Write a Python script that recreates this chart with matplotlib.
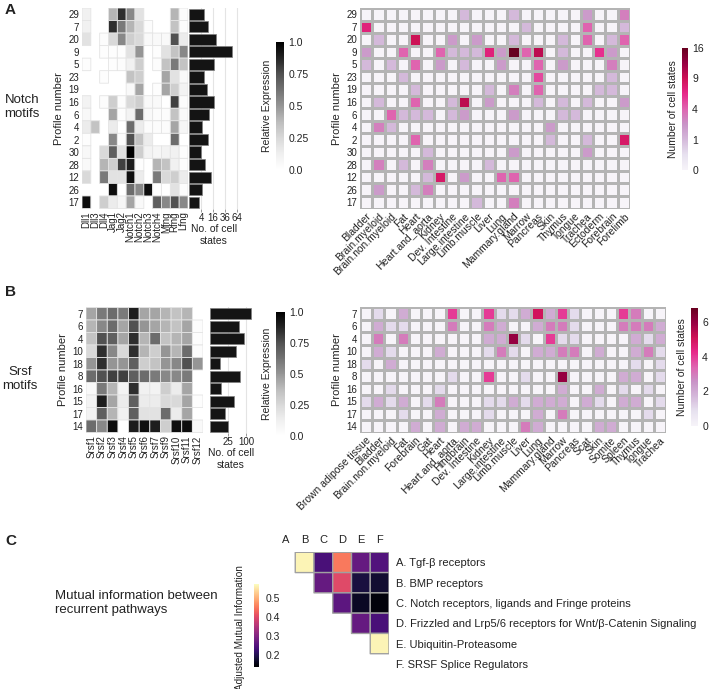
import numpy as np
import matplotlib
matplotlib.use('Agg')
import matplotlib.pyplot as plt
from matplotlib.colors import PowerNorm, Normalize

plt.rcParams['font.family'] = ['Liberation Sans', 'DejaVu Sans']
plt.rcParams['text.color'] = '#222222'
plt.rcParams['axes.labelcolor'] = '#222222'
plt.rcParams['xtick.color'] = '#222222'
plt.rcParams['ytick.color'] = '#222222'

nan = np.nan

# ---------------- Panel A data ----------------
notch_rows = ['29', '7', '20', '9', '5', '23', '19', '16', '6', '4', '2', '30', '28', '12', '26', '17']
notch_genes = ['Dll1', 'Dll3', 'Dll4', 'Jag1', 'Jag2', 'Notch1', 'Notch2', 'Notch3', 'Notch4', 'Mfng', 'Rfng', 'Lfng']
notch_expr = [
    [0.12, nan, nan, 0.40, 0.85, 0.55, 0.20, nan, nan, nan, 0.40, 0.03],
    [0.12, nan, nan, 0.85, 0.60, 0.40, 0.25, 0.03, nan, nan, 0.35, 0.03],
    [0.20, nan, 0.03, 0.25, 0.55, 0.30, 0.25, 0.05, 0.05, 0.05, 0.75, 0.15],
    [nan, nan, 0.02, 0.02, 0.02, 0.20, 0.50, nan, 0.02, 0.20, 0.35, 0.55],
    [0.02, nan, nan, 0.02, 0.03, 0.12, 0.30, nan, 0.03, 0.35, 0.60, 0.35],
    [nan, nan, 0.02, nan, nan, 0.35, 0.30, nan, nan, 0.45, 0.20, 0.05],
    [nan, nan, nan, nan, nan, 0.05, 0.45, nan, 0.02, 0.45, 0.30, 0.10],
    [0.10, nan, 0.03, 0.30, 0.03, 0.25, 0.30, 0.05, 0.05, nan, 0.80, 0.03],
    [0.06, nan, nan, 0.45, 0.02, 0.10, 0.65, 0.05, 0.03, 0.03, 0.35, 0.05],
    [0.15, 0.35, nan, 0.15, nan, 0.65, 0.15, 0.03, 0.03, 0.03, 0.45, 0.08],
    [0.02, nan, nan, 0.55, 0.03, 0.75, 0.35, 0.15, nan, nan, 0.65, nan],
    [0.06, nan, 0.25, 0.70, 0.20, 1.00, 0.30, 0.10, 0.08, 0.10, 0.12, 0.02],
    [0.05, nan, 0.40, 0.30, 0.80, 0.90, 0.02, nan, 0.40, 0.35, 0.12, 0.02],
    [0.25, nan, 0.60, 0.20, 0.20, 0.95, 0.15, nan, 0.60, 0.25, 0.30, 0.15],
    [nan, nan, nan, 0.95, nan, 0.65, 0.55, 0.95, 0.02, nan, 0.20, 0.03],
    [0.95, nan, 0.30, 0.15, 0.08, 0.45, 0.05, nan, 0.70, 0.55, 0.75, 0.55],
]
notch_counts = [6, 10, 20, 52, 17, 6, 9, 18, 11, 5, 10, 4, 7, 14, 5, 3]
notch_count_ticks = [4, 16, 36, 64]

notch_tissues = ['Bladder', 'Brain.myeloid', 'Brain.non.myeloid', 'Fat', 'Heart', 'Heart.and_aorta',
                 'Kidney', 'Dev. Intestine', 'Large.intestine', 'Limb.muscle', 'Liver', 'Lung',
                 'Mammary.gland', 'Marrow', 'Pancreas', 'Skin', 'Thymus', 'Tongue', 'Trachea',
                 'Ectoderm', 'Forebrain', 'Forelimb']
notch_states = [
    [0, 0, 0, 0, 0, 0, 0, 0, 1, 0, 0, 0, 1, 0, 0, 0, 0, 0, 2, 0, 0, 3],
    [7, 0, 0, 0, 0, 0, 0, 0, 0, 0, 0, 0, 0, 1, 0, 0, 0, 0, 4, 0, 0, 1],
    [0, 1, 0, 0, 9, 0, 0, 2, 0, 2, 0, 0, 1, 0, 0, 0, 1, 0, 4, 0, 1, 4],
    [2, 0, 0, 4, 0, 0, 4, 1, 1, 1, 7, 2, 16, 4, 10, 0, 1, 0, 0, 6, 2, 0],
    [1, 0, 1, 0, 4, 0, 2, 0, 1, 0, 0, 2, 0, 0, 4, 0, 2, 0, 0, 0, 3, 0],
    [0, 0, 0, 1, 0, 0, 0, 0, 0, 0, 0, 0, 0, 0, 5, 0, 0, 0, 0, 0, 1, 0],
    [0, 0, 0, 0, 1, 0, 0, 0, 0, 0, 1, 0, 3, 0, 4, 0, 0, 0, 0, 1, 1, 0],
    [0, 1, 0, 0, 4, 0, 0, 1, 10, 0, 2, 0, 0, 0, 1, 0, 1, 0, 1, 0, 0, 2],
    [0, 0, 4, 1, 1, 1, 0, 1, 2, 0, 0, 0, 2, 0, 0, 0, 1, 1, 0, 0, 0, 0],
    [0, 3, 1, 0, 0, 0, 0, 0, 0, 0, 0, 0, 0, 0, 0, 2, 0, 0, 0, 0, 0, 0],
    [0, 0, 0, 0, 4, 0, 0, 0, 0, 0, 0, 0, 0, 0, 0, 1, 0, 0, 1, 0, 0, 8],
    [0, 0, 0, 0, 0, 1, 0, 0, 0, 0, 0, 0, 2, 0, 0, 0, 0, 0, 2, 0, 0, 0],
    [0, 3, 0, 1, 0, 3, 0, 0, 0, 0, 1, 0, 0, 0, 0, 0, 0, 0, 0, 0, 0, 0],
    [0, 0, 0, 0, 0, 1, 8, 0, 2, 0, 0, 4, 4, 0, 0, 0, 0, 0, 0, 0, 0, 0],
    [0, 2, 0, 0, 1, 3, 0, 0, 0, 0, 0, 0, 0, 0, 0, 0, 0, 0, 0, 0, 0, 0],
    [0, 0, 0, 0, 0, 0, 0, 0, 0, 1, 0, 0, 3, 0, 0, 0, 0, 0, 0, 0, 0, 0],
]
notch_state_ticks = [0, 1, 4, 9, 16]

# ---------------- Panel B data ----------------
srsf_rows = ['7', '6', '4', '10', '18', '8', '16', '15', '17', '14']
srsf_genes = ['Srsf1', 'Srsf2', 'Srsf3', 'Srsf4', 'Srsf5', 'Srsf6', 'Srsf7', 'Srsf9', 'Srsf10', 'Srsf11', 'Srsf12']
srsf_expr = [
    [0.45, 0.60, 0.65, 0.60, 0.90, 0.45, 0.45, 0.40, 0.35, 0.40, nan],
    [0.40, 0.55, 0.65, 0.45, 0.75, 0.50, 0.45, 0.40, 0.35, 0.45, 0.03],
    [0.35, 0.75, 0.70, 0.45, 0.85, 0.40, 0.65, 0.35, 0.40, 0.45, 0.02],
    [0.25, 0.85, 0.55, 0.25, 0.85, 0.40, 0.30, 0.50, 0.40, 0.65, 0.03],
    [0.50, 0.85, 0.50, 0.50, 0.70, 0.30, 0.35, 0.50, 0.55, 0.75, 0.50],
    [0.65, 0.75, 0.80, 0.80, 0.70, 0.65, 0.60, 0.55, 0.55, 0.60, nan],
    [0.05, 0.60, 0.40, 0.10, 0.85, 0.12, 0.10, 0.30, 0.15, 0.45, nan],
    [0.10, 0.90, 0.45, 0.15, 0.70, 0.15, 0.15, 0.25, 0.25, 0.45, 0.02],
    [0.10, 0.70, 0.40, 0.12, 0.70, 0.20, 0.20, 0.65, 0.15, 0.45, nan],
    [0.65, 0.55, 0.95, nan, 0.90, 0.95, 0.90, 0.30, 0.95, 0.95, 0.05],
]
srsf_counts = [128, 66, 91, 52, 7, 69, 10, 46, 17, 26]
srsf_count_ticks = [25, 100]

srsf_tissues = ['Brown adipose tissue', 'Bladder', 'Brain.non.myeloid', 'Fat', 'Forebrain', 'Gat',
                'Heart', 'Heart.and_aorta', 'Hindbrain', 'Dev. Intestine', 'Kidney', 'Large.intestine',
                'Limb.muscle', 'Liver', 'Lung', 'Mammary.gland', 'Marrow', 'Pancreas', 'Scat', 'Skin',
                'Somite', 'Spleen', 'Thymus', 'Tongue', 'Trachea']
srsf_states = [
    [0, 1, 0, 2, 0, 0, 0, 4, 0, 0, 4, 1, 1, 2, 5, 2, 4, 1, 0, 0, 0, 4, 3, 0, 0],
    [0, 2, 1, 1, 0, 0, 0, 3, 0, 0, 3, 2, 0, 0, 2, 3, 3, 1, 0, 0, 0, 3, 3, 3, 2],
    [0, 3, 0, 3, 0, 0, 0, 0, 0, 0, 2, 2, 6, 1, 0, 4, 1, 1, 0, 0, 0, 0, 2, 1, 2],
    [0, 2, 1, 0, 0, 0, 2, 0, 0, 0, 1, 3, 1, 0, 2, 2, 3, 3, 0, 2, 0, 0, 2, 3, 1],
    [1, 0, 2, 0, 0, 0, 0, 0, 0, 0, 0, 0, 0, 0, 0, 0, 0, 0, 0, 0, 0, 0, 1, 0, 1],
    [0, 0, 0, 0, 0, 0, 0, 1, 0, 0, 4, 0, 0, 1, 0, 0, 6, 0, 0, 0, 0, 2, 2, 0, 1],
    [0, 0, 1, 0, 0, 0, 1, 0, 0, 0, 0, 0, 0, 0, 0, 0, 2, 0, 0, 2, 0, 1, 0, 1, 0],
    [1, 2, 1, 2, 0, 1, 3, 0, 0, 0, 1, 1, 2, 1, 2, 2, 2, 0, 2, 1, 0, 2, 2, 0, 1],
    [0, 0, 0, 1, 0, 0, 2, 0, 0, 0, 1, 0, 0, 0, 2, 0, 3, 0, 0, 0, 0, 0, 0, 1, 0],
    [0, 0, 0, 0, 2, 0, 2, 0, 2, 2, 0, 0, 0, 3, 2, 0, 0, 0, 0, 2, 2, 0, 0, 0, 0],
]
srsf_state_ticks = [0, 2, 4, 6]

# ---------------- Panel C data ----------------
pathway_letters = ['A', 'B', 'C', 'D', 'E', 'F']
pathway_names = ['A. Tgf-\u03b2 receptors', 'B. BMP receptors',
                 'C. Notch receptors, ligands and Fringe proteins',
                 'D. Frizzled and Lrp5/6 receptors for Wnt/\u03b2-Catenin Signaling',
                 'E. Ubiquitin-Proteasome', 'F. SRSF Splice Regulators']
ami = [
    [nan, 0.56, 0.24, 0.45, 0.27, 0.25],
    [nan, nan, 0.27, 0.40, 0.19, 0.18],
    [nan, nan, nan, 0.26, 0.17, 0.15],
    [nan, nan, nan, nan, 0.27, 0.24],
    [nan, nan, nan, nan, nan, 0.56],
    [nan, nan, nan, nan, nan, nan],
]
ami_ticks = [0.2, 0.3, 0.4, 0.5]

# ---------------- figure ----------------
W, H = 714, 689
fig = plt.figure(figsize=(W / 100, H / 100), dpi=100)


def axpx(x0, y0, x1, y1):
    return fig.add_axes([x0 / W, 1 - y1 / H, (x1 - x0) / W, (y1 - y0) / H])


def hide_spines(ax):
    for s in ax.spines.values():
        s.set_visible(False)


def grey_heatmap(ax, data, rows, cols):
    m = np.ma.masked_invalid(np.array(data, float))
    mesh = ax.pcolor(m, cmap='Greys', vmin=0, vmax=1, edgecolors='#e4e4e4', linewidth=0.6)
    ax.set_xlim(0, len(cols))
    ax.set_ylim(len(rows), 0)
    ax.set_xticks(np.arange(len(cols)) + 0.5, cols, rotation=90, fontsize=7)
    ax.set_yticks(np.arange(len(rows)) + 0.5, rows, fontsize=7)
    ax.tick_params(length=0, pad=2)
    ax.set_ylabel('Profile number', fontsize=8, labelpad=3)
    hide_spines(ax)
    return mesh


def bar_panel(ax, vals, xmax, ticks):
    y = np.arange(len(vals)) + 0.5
    ax.set_xscale('function', functions=(lambda v: np.sqrt(np.clip(v, 0, None)), lambda v: np.square(v)))
    ax.barh(y, vals, height=0.9, color='#141414', edgecolor='#808080', linewidth=0.5, zorder=3)
    ax.set_ylim(len(vals), 0)
    ax.set_xlim(0, xmax)
    ax.set_xticks(ticks)
    ax.set_xticklabels([str(t) for t in ticks], fontsize=7)
    ax.xaxis.set_minor_locator(matplotlib.ticker.NullLocator())
    ax.grid(axis='x', color='#e4e4e4', lw=0.8, zorder=0)
    ax.set_yticks([])
    ax.tick_params(axis='x', length=2, width=0.6, pad=1, color='#888888')
    ax.set_xlabel('No. of cell\nstates', fontsize=7.5, labelpad=1)
    hide_spines(ax)


def pink_heatmap(ax, data, rows, cols, norm):
    mesh = ax.pcolormesh(np.array(data, float), cmap='PuRd', norm=norm,
                         edgecolors='#b4b4b4', linewidth=0.8)
    ax.set_xlim(0, len(cols))
    ax.set_ylim(len(rows), 0)
    ax.set_xticks(np.arange(len(cols)) + 0.5, cols, rotation=45, ha='right',
                  rotation_mode='anchor', fontsize=7.5)
    ax.set_yticks(np.arange(len(rows)) + 0.5, rows, fontsize=7)
    ax.tick_params(length=0, pad=2)
    ax.set_ylabel('Profile number', fontsize=8, labelpad=3)
    hide_spines(ax)
    return mesh


def colorbar(mesh, rect, ticks, labels, label):
    cax = axpx(*rect)
    cb = fig.colorbar(mesh, cax=cax, ticks=ticks)
    cb.set_ticklabels(labels)
    cb.outline.set_visible(False)
    cax.tick_params(length=0, labelsize=7.5, pad=3)
    cax.yaxis.set_label_position('left')
    cax.set_ylabel(label, fontsize=7.5, labelpad=3)
    return cb


# ---- Panel A ----
fig.text(5 / W, 1 - 10 / H, 'A', fontsize=11, fontweight='bold', va='center', ha='left')
fig.text(22 / W, 1 - 107 / H, 'Notch\nmotifs', fontsize=9.5, ha='center', va='center', linespacing=1.25)

axA1 = axpx(82, 8, 188, 208.5)
mA1 = grey_heatmap(axA1, notch_expr, notch_rows, notch_genes)
axA2 = axpx(189, 8, 239, 208.5)
bar_panel(axA2, notch_counts, 69.4, notch_count_ticks)
colorbar(mA1, (276, 42, 284, 170), [0, 0.25, 0.5, 0.75, 1.0], ['0.0', '0.25', '0.5', '0.75', '1.0'],
         'Relative Expression')

axA3 = axpx(360, 8, 630, 208.5)
mA3 = pink_heatmap(axA3, notch_states, notch_rows, notch_tissues, PowerNorm(0.5, vmin=0, vmax=16))
colorbar(mA3, (682, 48, 688, 170), notch_state_ticks, [str(t) for t in notch_state_ticks],
         'Number of cell states')

# ---- Panel B ----
fig.text(5 / W, 1 - 292 / H, 'B', fontsize=11, fontweight='bold', va='center', ha='left')
fig.text(20 / W, 1 - 379 / H, 'Srsf\nmotifs', fontsize=9.5, ha='center', va='center', linespacing=1.25)

axB1 = axpx(86, 307.5, 203, 432.5)
mB1 = grey_heatmap(axB1, srsf_expr, srsf_rows, srsf_genes)
axB2 = axpx(210, 307.5, 252, 432.5)
bar_panel(axB2, srsf_counts, 136, srsf_count_ticks)
colorbar(mB1, (276, 312, 285, 436), [0, 0.25, 0.5, 0.75, 1.0], ['0.0', '0.25', '0.5', '0.75', '1.0'],
         'Relative Expression')

axB3 = axpx(360, 307.5, 666, 432.5)
mB3 = pink_heatmap(axB3, srsf_states, srsf_rows, srsf_tissues, Normalize(vmin=0, vmax=6.8))
colorbar(mB3, (691, 308, 698, 426), srsf_state_ticks, [str(t) for t in srsf_state_ticks],
         'Number of cell states')

# ---- Panel C ----
fig.text(5 / W, 1 - 541 / H, 'C', fontsize=11, fontweight='bold', va='center', ha='left')
fig.text(55 / W, 1 - 603 / H, 'Mutual information between\nrecurrent pathways', fontsize=9.5,
         ha='left', va='center', linespacing=1.2)

axC = axpx(276.5, 552.3, 389, 674)
mC = axC.pcolor(np.ma.masked_invalid(np.array(ami, float)), cmap='magma', vmin=0.14, vmax=0.57,
                edgecolors='#a0a0a0', linewidth=1.0)
axC.set_xlim(0, 6)
axC.set_ylim(6, 0)
axC.xaxis.tick_top()
axC.set_xticks(np.arange(6) + 0.5, pathway_letters, fontsize=8)
axC.yaxis.tick_right()
axC.set_yticks(np.arange(6) + 0.5, pathway_names, fontsize=8)
axC.tick_params(length=0, pad=5)
hide_spines(axC)

caxC = axpx(254, 584, 258.5, 667)
cbC = fig.colorbar(mC, cax=caxC, ticks=ami_ticks)
cbC.set_ticklabels([f'{t:.1f}' for t in ami_ticks])
cbC.outline.set_visible(False)
caxC.tick_params(length=0, labelsize=7.5, pad=5)
caxC.yaxis.set_label_position('left')
caxC.set_ylabel('Adjusted Mutual Information', fontsize=7.2, labelpad=4)
caxC.yaxis.set_label_coords(-1.9, 0.47)

fig.savefig('out.png', dpi=100)
